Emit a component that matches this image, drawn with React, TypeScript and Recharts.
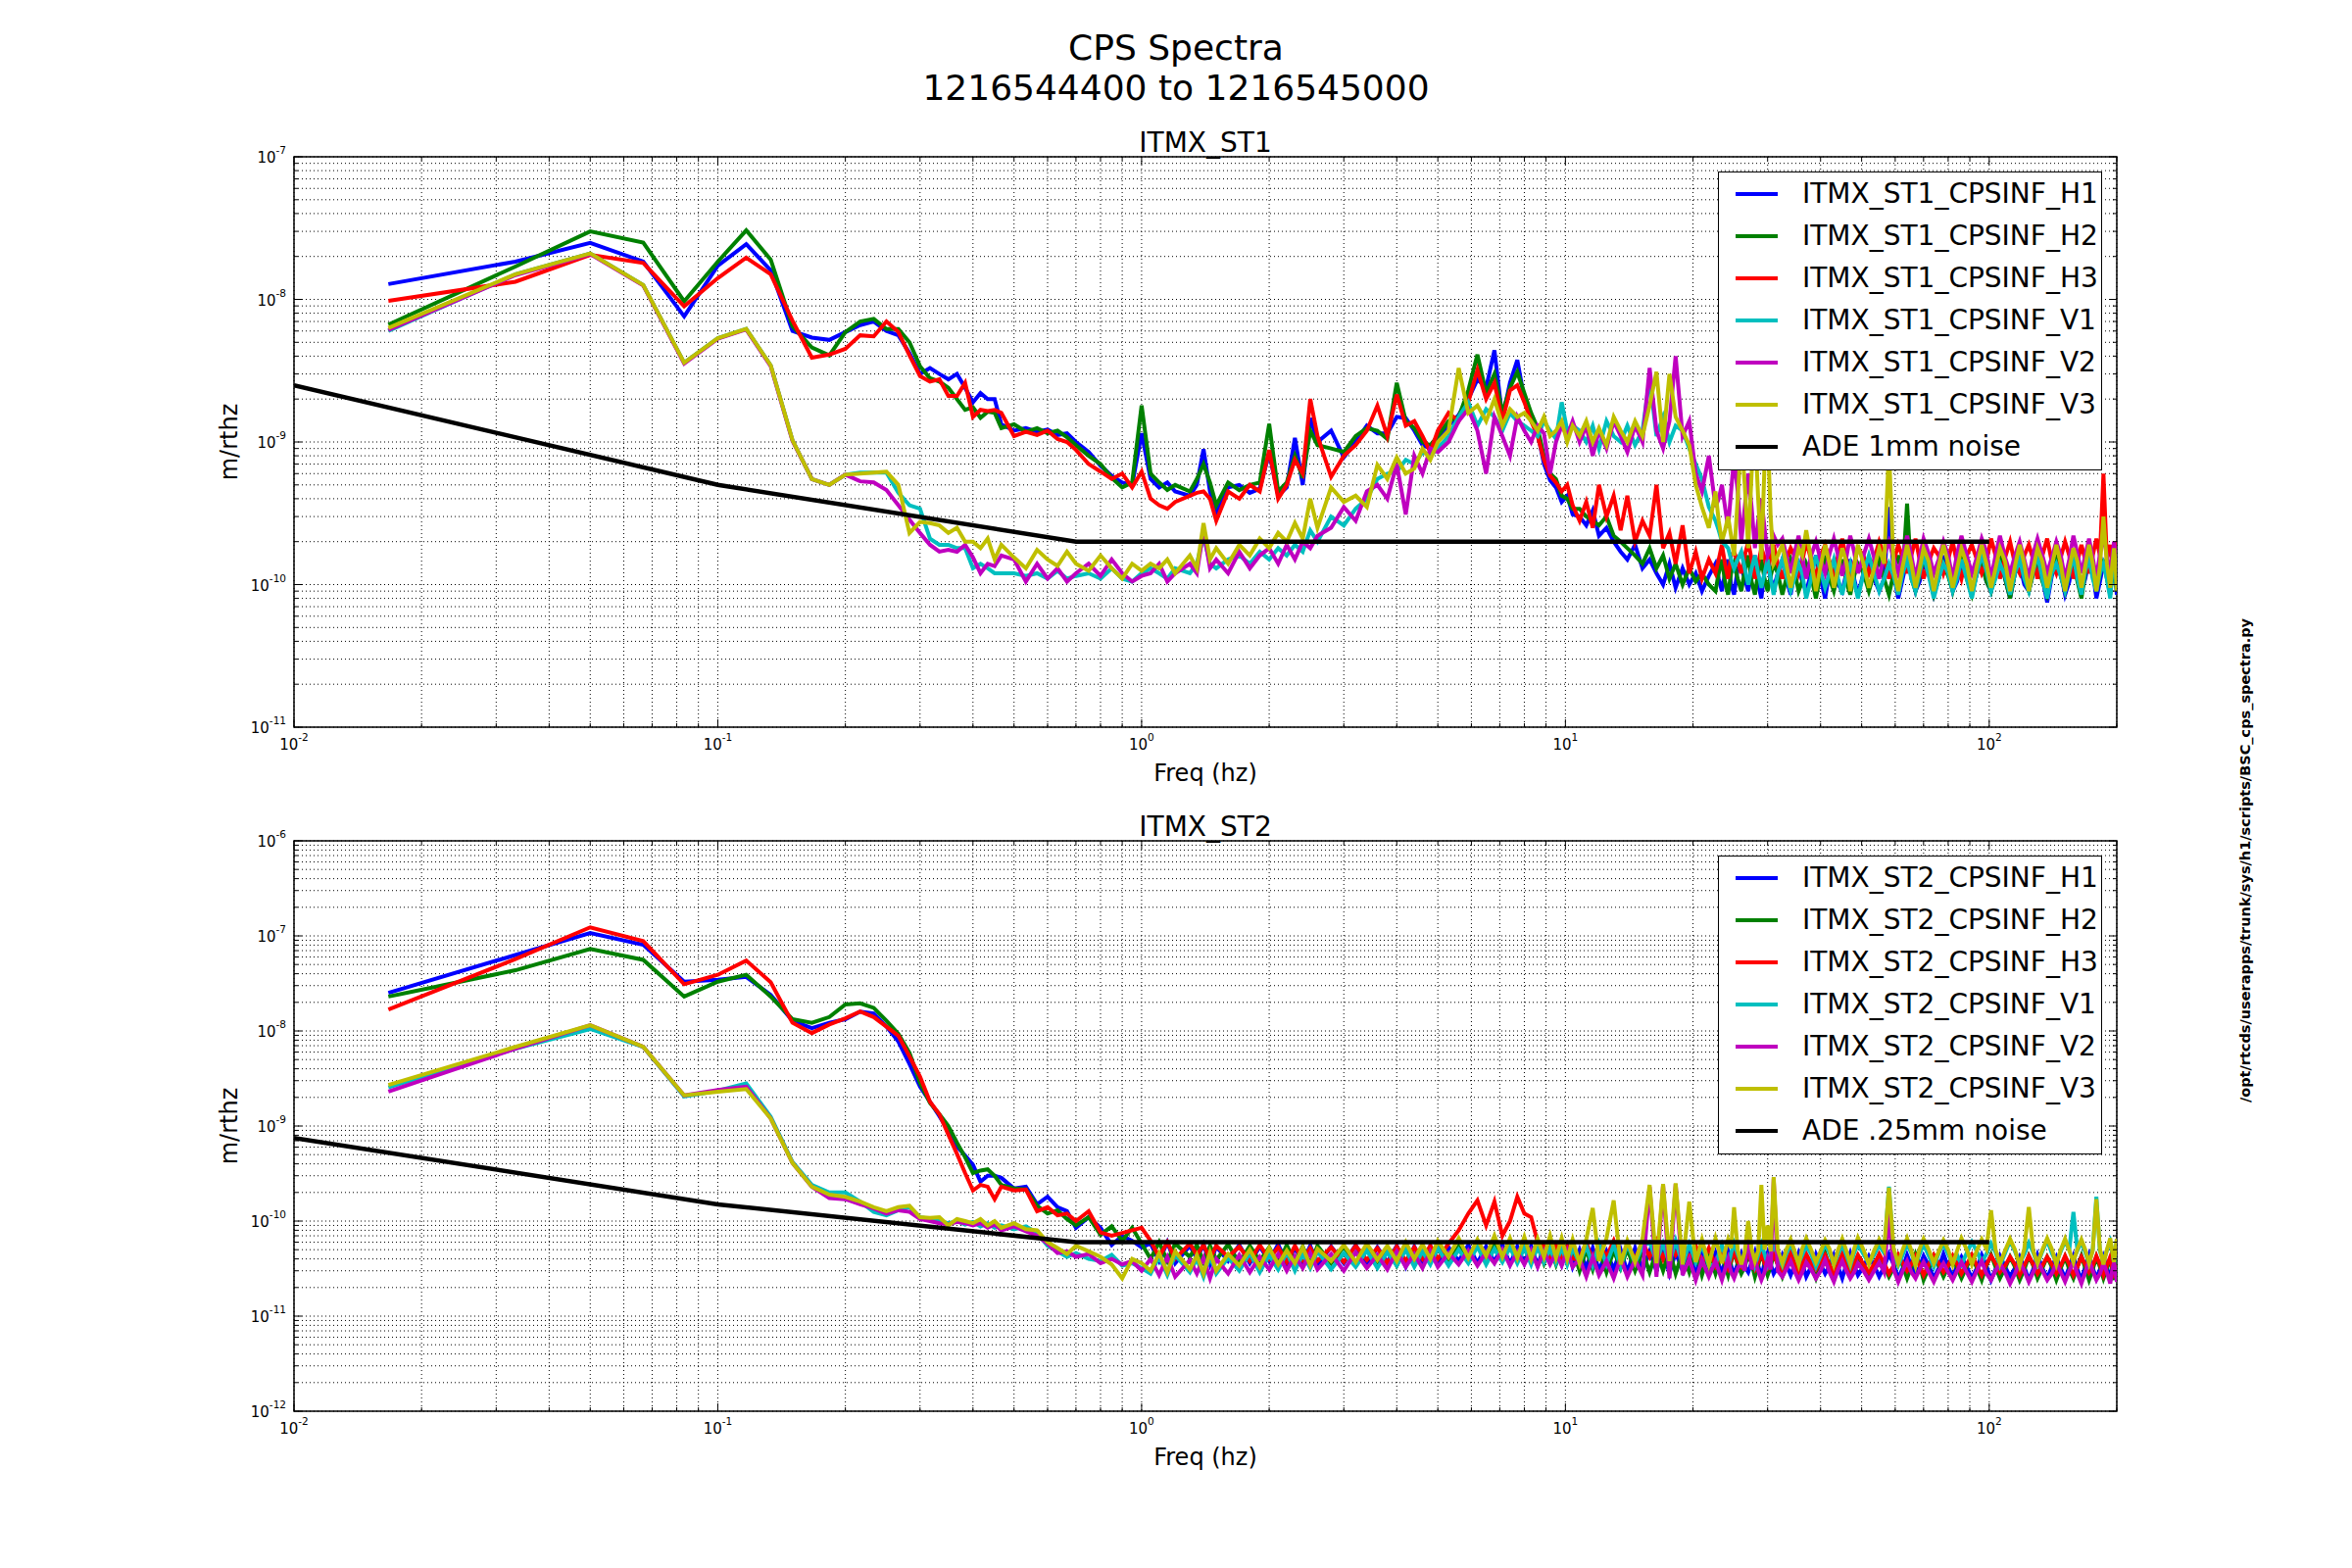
import React from "react";
import { LineChart, Line, XAxis, YAxis, CartesianGrid, ReferenceArea } from "recharts";

// frequency bins in Hz (low end is the 1/60 Hz FFT spacing, above 1 Hz thinned out)
const FREQ_LO = [
  0.0167, 0.0333, 0.05, 0.0667, 0.0833, 0.1, 0.1167, 0.1333, 0.15, 0.1667,
  0.1833, 0.2, 0.2167, 0.2333, 0.25, 0.2667, 0.2833, 0.3, 0.3167, 0.3333,
  0.35, 0.3667, 0.3833, 0.4, 0.4167, 0.4333, 0.45, 0.4667, 0.5, 0.5333,
  0.5667, 0.6, 0.6333, 0.6667, 0.7, 0.75, 0.8, 0.85, 0.9, 0.95,
  1.0,
];
const FREQ_MID = [
  1.05, 1.1, 1.15, 1.2, 1.3, 1.35, 1.4, 1.45, 1.5, 1.6,
  1.7, 1.8, 1.9, 2.0, 2.1, 2.2, 2.3, 2.4, 2.5, 2.6,
  2.8, 3.0, 3.2, 3.4, 3.6, 3.8, 4.0, 4.2, 4.4, 4.6,
  4.8, 5.0, 5.3, 5.6, 5.9, 6.2, 6.5, 6.8, 7.1, 7.4,
  7.7, 8.0, 8.3, 8.6, 8.9, 9.2, 9.5, 9.8, 10.1, 10.4,
];
const FREQ_HI = [
  10.8, 11.2, 11.6, 12.0, 12.5, 13.0, 13.5, 14.0, 14.6, 15.2,
  15.8, 16.4, 17.0, 17.6, 18.2, 18.9, 19.6, 20.3, 21.0, 21.8,
  22.6, 23.4, 24.2, 25.0, 26.0, 27.0, 28.0, 29.0, 30.0, 31.0,
  32.5, 34.0, 35.5, 37.0, 39.0, 41.0, 43.0, 45.0, 47.0, 49.0,
  52.0, 55.0, 58.0, 61.0, 64.0, 67.0, 70.0, 74.0, 78.0, 82.0,
  86.0, 91.0, 96.0, 101, 106, 112, 118, 124, 130, 137,
  144, 151, 158, 165, 172, 179, 186, 193, 197, 200,
];
const FREQ = [...FREQ_LO, ...FREQ_MID, ...FREQ_HI];
// extra bins in between, for the dense floor above ~23 Hz
const FREQ_BAND = [
  23.0, 23.8, 24.6, 25.5, 26.5, 27.5, 28.5, 29.5, 30.5, 31.7,
  33.2, 34.7, 36.2, 38.0, 40.0, 42.0, 44.0, 46.0, 48.0, 50.5,
  53.5, 56.5, 59.5, 62.5, 65.5, 68.5, 72.0, 76.0, 80.0, 84.0,
  88.5, 93.5, 98.5, 103.5, 109, 115, 121, 127, 133.5, 140.5,
  147.5, 154.5, 161.5, 168.5, 175.5, 182.5, 189.5, 195, 198.5,
];

const ADE_FREQ = [0.01, 0.1, 0.7, 100];

const COLORS = ["#0000ff", "#008000", "#ff0000", "#00bfbf", "#bf00bf", "#bfbf00"];

// ---- ITMX_ST1, values in units of 1e-11 m/rthz ----
const ST1_UNIT = 1e-11;
const ST1_NAMES = [
  "ITMX_ST1_CPSINF_H1", "ITMX_ST1_CPSINF_H2", "ITMX_ST1_CPSINF_H3",
  "ITMX_ST1_CPSINF_V1", "ITMX_ST1_CPSINF_V2", "ITMX_ST1_CPSINF_V3",
];
const ST1_H1 = [
  1280, 1840, 2490, 1840, 760, 1720, 2440, 1600, 600, 540,
  520, 590, 660, 700, 600, 560, 420, 300, 330, 300,
  275, 300, 240, 190, 220, 200, 200, 133, 120, 125,
  118, 122, 112, 115, 100, 85, 68, 58, 52, 50,
  115,
  55, 48, 52, 45, 42, 50, 89, 45, 32, 48,
  50, 44, 47, 84, 42, 48, 107, 50, 147, 100,
  120, 78, 100, 130, 115, 115, 150, 147, 120, 95,
  90, 100, 130, 155, 200, 275, 240, 440, 147, 260,
  375, 200, 147, 115, 70, 54, 48, 38, 42, 31,
  30, 26, 33, 22, 25, 20, 17, 15, 19, 13,
  15, 12, 10, 14, 9.5, 13, 10, 12, 9, 11.5,
  14, 9, 15, 8.5, 13, 9, 16, 8, 14, 9.5,
  15, 8.5, 14, 9, 16, 8, 13, 9, 15, 8.5,
  14, 9, 35, 8, 15, 9, 14, 8.5, 16, 9,
  14, 8.5, 15, 9, 16, 8, 14, 9, 15, 7.5,
  14, 8.5, 16, 9, 15, 8, 14, 9, 15, 8.5,
];
const ST1_H1_BAND = [
  11, 12, 10, 13, 11, 12, 10, 12.5, 11, 12,
  11, 12, 10.5, 12, 11, 12.5, 10, 12, 11, 12,
  11, 11, 12, 11, 12, 10.5, 12, 11, 12.5, 10.5,
  11.5, 12, 10.5, 12.5, 11, 12, 10, 12, 11, 11.5,
  12, 10.5, 12, 11, 12.5, 10.5, 12, 11, 12,
];
const ST1_H2 = [
  665, 1700, 3000, 2500, 970, 1840, 3050, 1900, 650, 460,
  405, 590, 700, 730, 620, 620, 500, 340, 280, 265,
  240, 200, 168, 175, 148, 163, 160, 125, 133, 118,
  125, 115, 120, 108, 95, 80, 70, 56, 48, 52,
  180,
  60, 52, 46, 50, 45, 55, 70, 52, 36, 52,
  46, 50, 52, 134, 45, 52, 80, 56, 120, 95,
  90, 85, 110, 125, 120, 105, 260, 140, 125, 100,
  95, 110, 140, 150, 230, 410, 220, 300, 160, 240,
  310, 220, 160, 125, 80, 60, 55, 42, 40, 34,
  34, 30, 28, 26, 30, 22, 20, 18, 16, 14,
  18, 13, 16, 11, 14, 10, 13, 10.5, 12, 10,
  9, 15, 8.5, 14, 9, 16, 8.5, 15, 9, 14,
  8.5, 15, 9, 14, 8, 16, 9, 15, 8.5, 14,
  9, 15, 8.5, 16, 37, 9, 15, 8.5, 14, 9,
  15, 8.5, 14, 9, 16, 8, 15, 9, 14, 8.5,
  15, 9, 14, 8, 16, 9, 15, 8.5, 14, 9,
];
const ST1_H2_BAND = [
  12, 10.5, 12, 11, 12.5, 10.5, 12, 11, 11.5, 12,
  11, 12.5, 10.5, 11.5, 12, 11, 12, 10.5, 11.5, 12,
  12, 11, 12, 12, 11, 11.5, 12, 11, 11.5, 12,
  11, 12, 10.5, 12.5, 11, 12, 11, 12, 10.5, 12,
  11.5, 12, 10.5, 12, 11.5, 12, 11, 12, 11,
];
const ST1_H3 = [
  975, 1330, 2050, 1800, 895, 1410, 1960, 1500, 710, 390,
  410, 450, 560, 550, 700, 590, 405, 290, 265, 275,
  210, 210, 260, 150, 168, 165, 168, 160, 110, 118,
  112, 120, 105, 100, 88, 70, 62, 55, 60, 48,
  62,
  40, 36, 34, 38, 42, 44, 45, 40, 28, 45,
  40, 50, 45, 88, 40, 50, 75, 60, 200, 110,
  57, 80, 95, 120, 180, 110, 215, 130, 140, 110,
  85, 120, 160, 140, 190, 320, 200, 260, 140, 230,
  250, 190, 140, 110, 75, 58, 52, 45, 50, 36,
  28, 38, 25, 50, 30, 42, 24, 42, 20, 28,
  22, 50, 18, 23, 14, 26, 12, 17, 11, 15,
  12, 19, 11, 17, 12, 20, 11, 18, 12, 19,
  11, 18, 12, 20, 11, 19, 12, 21, 11, 18,
  12, 20, 11, 19, 12, 21, 11, 18, 12, 20,
  11, 19, 12, 21, 11, 20, 12, 19, 11, 21,
  12, 20, 11, 19, 12, 21, 60, 19, 11, 20,
];
const ST1_H3_BAND = [
  15, 14, 16, 14.5, 16, 15, 14, 15.5, 16, 14,
  15, 16, 14.5, 15, 16, 14.5, 16, 15, 14, 16,
  15, 16, 14.5, 15.5, 16, 15, 14.5, 16, 15, 14,
  16, 15, 14.5, 16, 15.5, 14, 16, 15, 16, 14.5,
  15.5, 16, 14.5, 15, 16, 16, 15, 15, 16,
];
const ST1_V1 = [
  600, 1500, 2100, 1260, 360, 535, 620, 345, 103, 55,
  50, 59, 61, 61, 61, 44, 36, 34, 21, 19,
  19, 18, 18, 13, 14, 13, 12, 12, 12, 11.5,
  12, 11, 12.5, 11, 11.5, 12, 11, 13, 11, 10.5,
  12,
  13, 12, 11, 13, 12, 14, 22, 14, 13, 15,
  16, 14, 17, 15, 18, 16, 19, 17, 24, 20,
  30, 26, 34, 40, 55, 60, 62, 75, 70, 85,
  80, 90, 110, 150, 190, 130, 170, 150, 120, 160,
  140, 130, 120, 110, 140, 120, 105, 190, 120, 130,
  120, 100, 130, 90, 140, 110, 100, 130, 95, 120,
  280, 110, 150, 100, 130, 120, 90, 70, 55, 35,
  28, 20, 18, 13, 17, 10, 16, 9.5, 15, 8.5,
  15, 9, 14, 8, 16, 9.5, 15, 8.5, 14, 8,
  16, 9, 14, 8.5, 15, 9, 16, 8, 14, 9,
  15, 8, 16, 9, 14, 8.5, 15, 9, 16, 8,
  14, 9, 16, 8.5, 15, 9, 14, 8, 16, 9,
];
const ST1_V1_BAND = [
  24, 19, 15, 15, 13, 13, 12, 12, 11, 12,
  11.5, 11, 12, 11, 12.5, 12, 11, 11.5, 10.5, 12,
  12, 11, 11.5, 12, 11, 12, 11.5, 11, 12, 11,
  11, 12, 12.5, 11, 11.5, 12, 11, 12.5, 11, 12,
  11.5, 12, 11, 12.5, 11, 12, 11, 12, 12.5,
];
const ST1_V2 = [
  610, 1480, 2080, 1250, 355, 530, 615, 340, 102, 55,
  50, 59, 53, 52, 46, 36, 28.5, 23, 19, 17,
  17.5, 17, 19, 15.5, 12, 14, 13.5, 16, 15, 10.5,
  14, 11, 13, 10.5, 12, 14, 11.5, 15, 12, 10.5,
  11.5,
  12, 14, 10.5, 12, 14, 12, 24, 13, 15, 12,
  17, 13, 16, 18, 14, 19, 15, 20, 18, 22,
  25, 35, 28, 45, 50, 40, 70, 31, 80, 60,
  90, 85, 100, 140, 170, 120, 60, 150, 110, 80,
  150, 120, 100, 130, 115, 60, 100, 130, 110, 140,
  100, 130, 80, 120, 90, 140, 110, 85, 130, 100,
  330, 120, 90, 140, 400, 110, 140, 60, 45, 80,
  35, 50, 25, 78, 20, 60, 18, 40, 16, 22,
  21, 12, 22, 11, 20, 12, 21, 11.5, 22, 12,
  21, 11, 20, 12, 22, 11, 21, 12, 20, 11,
  22, 12, 21, 11, 22, 12, 20, 11, 21, 12,
  20, 11, 22, 12, 21, 11, 22, 12, 20, 12,
];
const ST1_V2_BAND = [
  40, 35, 45, 45, 35, 35, 28, 25, 18, 19,
  16, 16.5, 15.5, 16, 15, 16.5, 16, 15.5, 17, 16,
  15.5, 16, 15.5, 16, 16, 15.5, 16.5, 15, 16, 16.5,
  16, 15.5, 17, 16, 15.5, 16, 15, 16.5, 16, 15.5,
  16, 15, 16.5, 16, 15.5, 16.5, 16, 15.5, 16,
];
const ST1_V3 = [
  630, 1500, 2100, 1260, 360, 535, 620, 345, 103, 55,
  50, 59, 60, 61, 62, 50, 23, 27.5, 27, 26,
  23, 25, 20, 20, 18, 21, 15, 19, 15.5, 13,
  17.5, 15, 13.5, 17, 14, 12.5, 16, 13, 11, 14,
  12.5,
  14, 13, 15, 12, 16, 13, 27, 15, 18, 14,
  19, 16, 21, 18, 23, 20, 27, 21, 40, 25,
  48, 38, 42, 35, 69, 55, 78, 60, 65, 90,
  75, 100, 120, 330, 160, 180, 140, 200, 130, 170,
  150, 160, 140, 120, 150, 110, 120, 140, 100, 130,
  110, 140, 100, 125, 95, 150, 120, 100, 140, 110,
  180, 310, 100, 300, 150, 120, 95, 50, 35, 25,
  45, 20, 30, 16, 110, 18, 130, 15, 120, 14,
  19, 9.5, 18, 24, 9, 19, 9.5, 18, 9, 19,
  9.5, 18, 90, 9, 19, 9.5, 18, 9, 19, 9.5,
  18, 9, 19, 9.5, 18, 9, 19, 9, 18, 9.5,
  19, 9, 18, 9.5, 19, 9, 30, 9.5, 18, 9,
];
const ST1_V3_BAND = [
  28, 24, 22, 40, 50, 60, 40, 70, 30, 16,
  14, 13, 16, 15, 13.5, 14, 13, 14.5, 13.5, 14,
  13, 14, 13, 13.5, 14, 13, 14.5, 13.5, 14, 13,
  14, 13.5, 14, 13, 14.5, 13.5, 14, 13, 14.5, 13.5,
  14, 13, 14.5, 13.5, 14, 13.5, 14, 13.5, 14,
];
const ST1_ADE = [250, 50, 20, 20];

// ---- ITMX_ST2, values in units of 1e-12 m/rthz ----
const ST2_UNIT = 1e-12;
const ST2_NAMES = [
  "ITMX_ST2_CPSINF_H1", "ITMX_ST2_CPSINF_H2", "ITMX_ST2_CPSINF_H3",
  "ITMX_ST2_CPSINF_V1", "ITMX_ST2_CPSINF_V2", "ITMX_ST2_CPSINF_V3",
];
const ST2_H1 = [
  25200, 63000, 107000, 80500, 33000, 34500, 37000, 24000, 12800, 10700,
  12200, 13300, 16000, 15300, 11100, 7750, 4500, 2600, 1800, 1270,
  890, 610, 490, 390, 260, 300, 300, 285, 220, 230,
  150, 180, 140, 127, 85, 110, 85, 56, 70, 62,
  53,
  58, 38, 60, 36, 55, 40, 57, 35, 54, 38,
  56, 36, 54, 38, 57, 35, 53, 37, 55, 34,
  54, 36, 56, 34, 53, 37, 55, 33, 54, 36,
  55, 35, 53, 38, 56, 36, 54, 37, 57, 35,
  54, 36, 55, 34, 53, 37, 52, 35, 54, 33,
  50, 32, 52, 30, 48, 31, 50, 29, 52, 30,
  48, 30, 50, 28, 47, 30, 49, 27, 48, 29,
  46, 28, 48, 27, 45, 29, 47, 26, 46, 28,
  44, 27, 46, 26, 45, 28, 44, 25, 46, 27,
  43, 26, 45, 25, 44, 27, 43, 25, 45, 26,
  42, 25, 44, 24, 43, 26, 42, 24, 44, 25,
  42, 25, 43, 24, 44, 25, 42, 24, 43, 25,
];
const ST2_H1_BAND = [
  35, 38, 34, 36, 33, 37, 34, 36, 35, 33,
  35, 34, 36, 33, 35, 34, 33, 35, 34, 33,
  34, 33, 35, 32, 34, 33, 34, 32, 33, 34,
  33, 32, 34, 31, 33, 32, 33, 31, 32, 33,
  32, 33, 31, 33, 32, 31, 33, 32, 31,
];
const ST2_H2 = [
  23000, 43500, 73000, 56000, 23000, 33000, 39000, 23000, 13300, 12200,
  14000, 19000, 19500, 17500, 12800, 9300, 5900, 2850, 1750, 1330,
  1000, 670, 470, 320, 340, 350, 300, 240, 220, 215,
  145, 120, 130, 105, 90, 110, 72, 88, 62, 85,
  58,
  40, 60, 38, 58, 42, 56, 37, 55, 39, 57,
  36, 55, 38, 53, 35, 56, 37, 54, 34, 55,
  36, 54, 35, 56, 37, 53, 34, 55, 36, 52,
  37, 55, 36, 54, 38, 57, 40, 58, 42, 56,
  40, 57, 38, 55, 36, 54, 35, 53, 37, 52,
  30, 50, 31, 52, 29, 49, 32, 51, 30, 48,
  29, 48, 30, 50, 28, 47, 29, 49, 27, 46,
  28, 46, 27, 48, 28, 45, 26, 47, 27, 45,
  26, 45, 27, 44, 25, 46, 26, 44, 27, 43,
  25, 44, 26, 43, 25, 45, 24, 43, 26, 42,
  25, 43, 24, 44, 25, 42, 24, 43, 25, 42,
  24, 42, 25, 43, 24, 42, 25, 41, 24, 42,
];
const ST2_H2_BAND = [
  36, 34, 37, 35, 33, 36, 34, 35, 33, 35,
  34, 35, 33, 34, 35, 33, 34, 35, 33, 34,
  33, 34, 32, 34, 33, 35, 32, 34, 33, 32,
  33, 32, 34, 33, 32, 33, 31, 34, 32, 33,
  32, 31, 33, 32, 31, 33, 32, 31, 32,
];
const ST2_H3 = [
  16800, 57000, 123000, 88000, 31000, 39000, 55000, 32500, 12200, 9500,
  11700, 13600, 16000, 14000, 11100, 8900, 5400, 3300, 1800, 1330,
  810, 510, 320, 210, 240, 230, 170, 230, 210, 215,
  127, 140, 115, 120, 100, 127, 76, 70, 75, 80,
  85,
  62, 42, 60, 40, 58, 44, 56, 40, 55, 42,
  54, 38, 56, 40, 53, 37, 55, 39, 52, 38,
  53, 37, 55, 39, 52, 36, 54, 38, 53, 40,
  55, 40, 58, 80, 120, 165, 90, 160, 70, 100,
  180, 120, 110, 60, 55, 40, 56, 42, 54, 40,
  40, 60, 38, 58, 42, 62, 38, 56, 40, 60,
  42, 62, 40, 60, 44, 58, 40, 55, 36, 52,
  34, 50, 32, 48, 33, 47, 31, 46, 32, 45,
  30, 46, 29, 45, 31, 44, 28, 45, 30, 44,
  29, 45, 28, 44, 30, 43, 27, 44, 29, 43,
  28, 44, 27, 43, 29, 42, 27, 43, 28, 42,
  28, 43, 27, 42, 29, 43, 27, 42, 28, 24,
];
const ST2_H3_BAND = [
  40, 38, 39, 37, 38, 36, 37, 36, 37, 35,
  36, 37, 35, 36, 37, 35, 36, 35, 36, 35,
  35, 36, 34, 36, 35, 34, 35, 36, 34, 35,
  35, 34, 35, 36, 34, 35, 34, 35, 34, 35,
  34, 35, 33, 35, 34, 35, 34, 33, 30,
];
const ST2_V1 = [
  2550, 6500, 10500, 6800, 2050, 2350, 2800, 1250, 420, 240,
  200, 200, 160, 125, 115, 130, 140, 110, 105, 100,
  95, 100, 92, 98, 88, 95, 85, 90, 82, 88,
  75, 55, 48, 42, 46, 40, 38, 44, 34, 36,
  32,
  28, 42, 27, 44, 29, 40, 26, 43, 28, 41,
  30, 46, 29, 44, 31, 47, 30, 45, 32, 48,
  31, 46, 33, 49, 32, 47, 34, 50, 33, 48,
  35, 52, 34, 50, 36, 54, 35, 51, 37, 53,
  36, 52, 35, 54, 37, 51, 36, 53, 35, 52,
  36, 55, 34, 58, 35, 56, 33, 57, 36, 54,
  60, 38, 58, 36, 62, 35, 57, 37, 56, 34,
  35, 56, 33, 58, 36, 55, 34, 57, 35, 56,
  34, 57, 36, 55, 33, 58, 35, 56, 34, 57,
  36, 56, 230, 34, 58, 35, 57, 33, 58, 36,
  35, 60, 37, 58, 34, 62, 36, 59, 35, 63,
  37, 62, 125, 60, 36, 180, 38, 61, 36, 64,
];
const ST2_V1_BAND = [
  45, 44, 46, 45, 43, 46, 44, 45, 46, 44,
  45, 46, 44, 45, 43, 46, 45, 44, 46, 45,
  44, 46, 45, 44, 46, 45, 43, 46, 45, 44,
  46, 48, 45, 47, 46, 48, 45, 47, 48, 46,
  48, 50, 49, 47, 50, 48, 49, 50, 48,
];
const ST2_V2 = [
  2300, 6500, 11500, 6800, 2100, 2400, 2600, 1200, 410, 230,
  175, 170, 150, 136, 120, 130, 125, 105, 100, 95,
  92, 98, 95, 90, 95, 85, 92, 80, 88, 78,
  70, 58, 46, 48, 42, 45, 36, 40, 35, 38,
  30,
  40, 27, 42, 26, 39, 28, 41, 25, 40, 28,
  44, 29, 42, 31, 45, 30, 43, 32, 46, 31,
  45, 30, 47, 32, 44, 31, 48, 33, 45, 32,
  48, 33, 46, 35, 49, 34, 47, 36, 50, 34,
  47, 35, 49, 33, 48, 35, 46, 34, 49, 33,
  40, 26, 42, 27, 38, 25, 41, 26, 39, 27,
  230, 26, 240, 25, 245, 27, 40, 24, 39, 26,
  38, 24, 40, 25, 37, 90, 39, 24, 40, 280,
  26, 38, 24, 37, 25, 39, 23, 38, 25, 36,
  24, 37, 120, 23, 38, 25, 37, 23, 36, 24,
  37, 23, 38, 24, 36, 22, 37, 23, 38, 24,
  36, 23, 37, 22, 38, 24, 36, 22, 37, 23,
];
const ST2_V2_BAND = [
  30, 31, 29, 32, 30, 31, 30, 29, 31, 30,
  31, 30, 29, 31, 30, 29, 31, 30, 29, 30,
  30, 29, 31, 30, 29, 31, 29, 30, 29, 30,
  29, 30, 28, 30, 29, 28, 30, 29, 30, 28,
  29, 30, 28, 29, 30, 28, 29, 30, 29,
];
const ST2_V3 = [
  2700, 6800, 11500, 6800, 2100, 2300, 2450, 1200, 410, 230,
  190, 180, 160, 140, 127, 140, 145, 110, 108, 110,
  90, 105, 100, 95, 105, 90, 100, 85, 95, 82,
  80, 60, 52, 45, 55, 48, 42, 35, 25, 40,
  36,
  30, 46, 29, 48, 31, 44, 28, 47, 30, 45,
  34, 50, 33, 52, 35, 49, 36, 53, 34, 51,
  38, 56, 37, 58, 39, 55, 38, 60, 40, 57,
  40, 62, 42, 66, 41, 64, 43, 70, 42, 66,
  41, 68, 40, 65, 42, 70, 41, 66, 40, 64,
  36, 64, 137, 38, 66, 165, 35, 62, 37, 65,
  240, 36, 245, 38, 250, 35, 160, 37, 64, 35,
  66, 36, 64, 140, 35, 100, 38, 240, 90, 290,
  36, 64, 35, 66, 37, 63, 35, 65, 36, 67,
  35, 64, 225, 36, 66, 34, 65, 36, 63, 35,
  66, 35, 64, 130, 36, 65, 34, 140, 36, 66,
  35, 65, 37, 64, 36, 170, 35, 66, 37, 65,
];
const ST2_V3_BAND = [
  50, 48, 52, 50, 48, 51, 49, 50, 48, 50,
  50, 49, 51, 50, 48, 51, 50, 49, 51, 50,
  49, 50, 51, 50, 49, 51, 50, 48, 50, 49,
  50, 49, 51, 50, 49, 50, 51, 49, 50, 51,
  50, 49, 51, 50, 49, 51, 50, 49, 50,
];
const ST2_ADE = [750, 150, 60, 60];

// axis ticks: every 1..9 x decade, labels only on decades
const MANTISSAS = [1, 2, 3, 4, 5, 6, 7, 8, 9];
const X_TICKS = [...[-2, -1, 0, 1].flatMap((e) => MANTISSAS.map((m) => m * Math.pow(10, e))), 100, 200];
const logTicks = (lo: number, hi: number) => {
  const out: number[] = [];
  for (let e = lo; e < hi; e++) MANTISSAS.forEach((m) => out.push(m * Math.pow(10, e)));
  out.push(Math.pow(10, hi));
  return out;
};

const FONT = "'DejaVu Sans', sans-serif";
const PLOT_W = 1860;
const PLOT_H = 582;

const isDecade = (v: number) => {
  const lg = Math.log10(v);
  return Math.abs(lg - Math.round(lg)) < 1e-6;
};

// main grid plus the in-between bins, sorted by frequency
const buildSeries = (vals: number[], band: number[], unit: number) => {
  const pts = FREQ.map((f, i) => ({ f, v: vals[i] * unit }));
  FREQ_BAND.forEach((f, i) => pts.push({ f, v: band[i] * unit }));
  return pts.sort((a, b) => a.f - b.f);
};

const XTick = (props: any) => {
  const { x, y, payload } = props;
  const major = isDecade(payload.value);
  const len = major ? 8 : 4;
  return (
    <g>
      <line x1={x} x2={x} y1={y} y2={y - len} stroke="#000" strokeWidth={1} />
      <line x1={x} x2={x} y1={y - PLOT_H} y2={y - PLOT_H + len} stroke="#000" strokeWidth={1} />
      {major && (
        <text x={x} y={y + 23} textAnchor="middle" fontFamily={FONT} fill="#000">
          <tspan fontSize={15}>10</tspan>
          <tspan fontSize={10.5} dy={-9}>{Math.round(Math.log10(payload.value))}</tspan>
        </text>
      )}
    </g>
  );
};

const YTick = (props: any) => {
  const { x, y, payload } = props;
  const major = isDecade(payload.value);
  const len = major ? 8 : 4;
  return (
    <g>
      <line x1={x} x2={x + len} y1={y} y2={y} stroke="#000" strokeWidth={1} />
      <line x1={x + PLOT_W} x2={x + PLOT_W - len} y1={y} y2={y} stroke="#000" strokeWidth={1} />
      {major && (
        <text x={x - 8} y={y + 6} textAnchor="end" fontFamily={FONT} fill="#000">
          <tspan fontSize={15}>10</tspan>
          <tspan fontSize={10.5} dy={-9}>{Math.round(Math.log10(payload.value))}</tspan>
        </text>
      )}
    </g>
  );
};

type PanelProps = {
  top: number;
  names: string[];
  series: [number[], number[]][];
  unit: number;
  ade: number[];
  adeName: string;
  yLo: number;
  yHi: number;
};

function Panel({ top, names, series, unit, ade, adeName, yLo, yHi }: PanelProps) {
  const yMin = Math.pow(10, yLo);
  const yMax = Math.pow(10, yHi);
  const yTicks = logTicks(yLo, yHi);
  const adeData = ADE_FREQ.map((f, i) => ({ f, v: ade[i] * unit }));
  const legendItems = [
    ...names.map((n, i) => ({ n, c: COLORS[i] })),
    { n: adeName, c: "#000" },
  ];

  return (
    <div style={{ position: "absolute", left: 0, top, width: 2400, height: 800 }}>
      <LineChart width={2400} height={800} margin={{ top: 160, right: 240, bottom: 0, left: 0 }}>
        <CartesianGrid stroke="#000" strokeWidth={1} strokeDasharray="1 3" />
        <XAxis
          type="number"
          dataKey="f"
          scale="log"
          domain={[0.01, 200]}
          ticks={X_TICKS}
          interval={0}
          height={58}
          axisLine={false}
          tickLine={false}
          tickSize={0}
          tickMargin={0}
          tick={XTick}
          allowDataOverflow
        />
        <YAxis
          type="number"
          scale="log"
          domain={[yMin, yMax]}
          ticks={yTicks}
          interval={0}
          width={300}
          axisLine={false}
          tickLine={false}
          tickSize={0}
          tickMargin={0}
          tick={YTick}
          allowDataOverflow
        />
        {series.map(([vals, band], i) => (
          <Line
            key={names[i]}
            name={names[i]}
            data={buildSeries(vals, band, unit)}
            dataKey="v"
            type="linear"
            stroke={COLORS[i]}
            strokeWidth={4}
            dot={false}
            activeDot={false}
            isAnimationActive={false}
          />
        ))}
        <Line
          name={adeName}
          data={adeData}
          dataKey="v"
          type="linear"
          stroke="#000"
          strokeWidth={4.5}
          dot={false}
          activeDot={false}
          isAnimationActive={false}
        />
        <ReferenceArea
          x1={0.01}
          x2={200}
          y1={yMin}
          y2={yMax}
          fill="none"
          fillOpacity={0}
          stroke="#000"
          strokeWidth={1.5}
          ifOverflow="visible"
        />
      </LineChart>
      <div
        style={{
          position: "absolute",
          left: 1753,
          top: 175,
          width: 392,
          height: 305,
          border: "1.5px solid #000",
          background: "#fff",
          boxSizing: "border-box",
          fontFamily: FONT,
          fontSize: 28,
          color: "#000",
        }}
      >
        {legendItems.map((it, i) => (
          <div
            key={it.n}
            style={{ position: "absolute", left: 0, top: i * 43, height: 43, display: "flex", alignItems: "center" }}
          >
            <div style={{ marginLeft: 17, width: 43, height: 4, background: it.c }} />
            <div style={{ marginLeft: 25, whiteSpace: "nowrap", lineHeight: "43px" }}>{it.n}</div>
          </div>
        ))}
      </div>
    </div>
  );
}

export default function App() {
  return (
    <div style={{ position: "absolute", left: 0, top: 0, width: 2400, height: 1600, background: "#fff", overflow: "hidden" }}>
      <Panel
        top={0}
        names={ST1_NAMES}
        series={[
          [ST1_H1, ST1_H1_BAND], [ST1_H2, ST1_H2_BAND], [ST1_H3, ST1_H3_BAND],
          [ST1_V1, ST1_V1_BAND], [ST1_V2, ST1_V2_BAND], [ST1_V3, ST1_V3_BAND],
        ]}
        unit={ST1_UNIT}
        ade={ST1_ADE}
        adeName="ADE 1mm noise"
        yLo={-11}
        yHi={-7}
      />
      <Panel
        top={698}
        names={ST2_NAMES}
        series={[
          [ST2_H1, ST2_H1_BAND], [ST2_H2, ST2_H2_BAND], [ST2_H3, ST2_H3_BAND],
          [ST2_V1, ST2_V1_BAND], [ST2_V2, ST2_V2_BAND], [ST2_V3, ST2_V3_BAND],
        ]}
        unit={ST2_UNIT}
        ade={ST2_ADE}
        adeName="ADE .25mm noise"
        yLo={-12}
        yHi={-6}
      />
      <svg
        width={2400}
        height={1600}
        style={{ position: "absolute", left: 0, top: 0, pointerEvents: "none" }}
        fontFamily={FONT}
        fill="#000"
      >
        <text x={1200} y={61} fontSize={36} textAnchor="middle">CPS Spectra</text>
        <text x={1200} y={102} fontSize={36} textAnchor="middle">1216544400 to 1216545000</text>
        <text x={1230} y={155} fontSize={28} textAnchor="middle">ITMX_ST1</text>
        <text x={1230} y={853} fontSize={28} textAnchor="middle">ITMX_ST2</text>
        <text x={1230} y={797} fontSize={24} textAnchor="middle">Freq (hz)</text>
        <text x={1230} y={1495} fontSize={24} textAnchor="middle">Freq (hz)</text>
        <text x={242} y={451} fontSize={24} textAnchor="middle" transform="rotate(-90 242 451)">m/rthz</text>
        <text x={242} y={1149} fontSize={24} textAnchor="middle" transform="rotate(-90 242 1149)">m/rthz</text>
        <text x={2296} y={878} fontSize={14.5} fontWeight="bold" textAnchor="middle" transform="rotate(-90 2296 878)">
          /opt/rtcds/userapps/trunk/sys/h1/scripts/BSC_cps_spectra.py
        </text>
      </svg>
    </div>
  );
}
